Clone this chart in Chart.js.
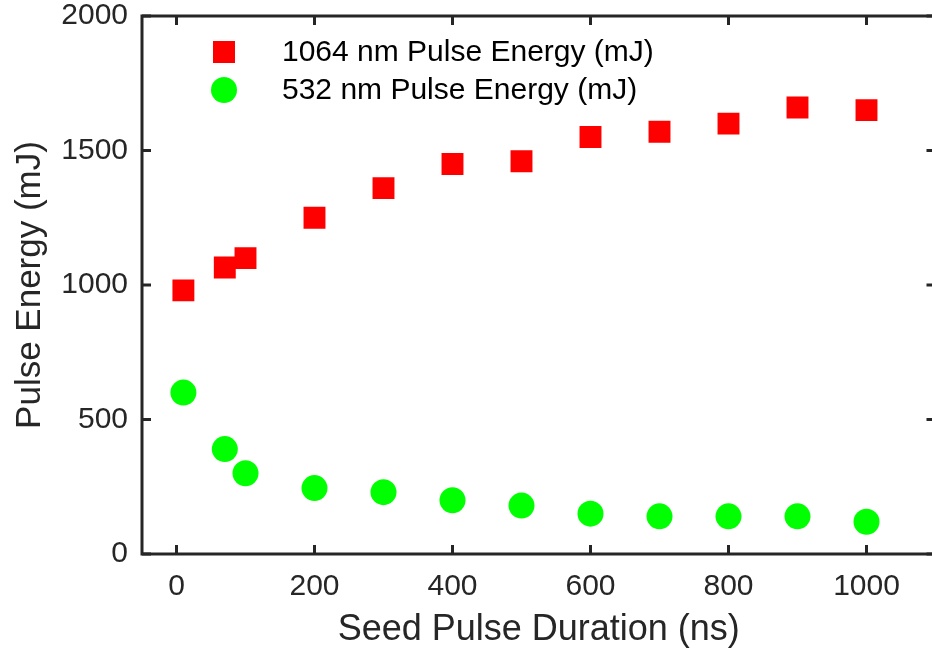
<!DOCTYPE html>
<html>
<head>
<meta charset="utf-8">
<script src="https://cdn.jsdelivr.net/npm/chart.js@4.4.1/dist/chart.umd.min.js"></script>
<style>
  html, body { margin: 0; padding: 0; background: #fff; overflow: hidden; }
  #wrap { width: 951px; height: 652px; }
</style>
</head>
<body>
<div id="wrap"><canvas id="energy-chart" width="951" height="652"></canvas></div>
<script>
// seed pulse duration (ns)
const durations = [10, 70, 100, 200, 300, 400, 500, 600, 700, 800, 900, 1000];
// pulse energy (mJ)
const energy1064 = [980, 1065, 1100, 1250, 1360, 1450, 1460, 1550, 1570, 1600, 1660, 1650];
const energy532 = [600, 390, 300, 245, 230, 200, 180, 150, 140, 140, 140, 120];

const xTicks = [0, 200, 400, 600, 800, 1000];
const yTicks = [0, 500, 1000, 1500, 2000];

const axisColor = '#262626';
const fontFamily = '"Liberation Sans", Arial, Helvetica, sans-serif';

function toPoints(xs, ys) {
    return xs.map((x, i) => ({ x: x, y: ys[i] }));
}

// box around the plot with short ticks pointing inwards on every side
const frameTicks = {
    id: 'frameTicks',
    afterDatasetsDraw(chart) {
        const { ctx, chartArea: a, scales } = chart;
        const len = 9;
        ctx.save();
        ctx.strokeStyle = axisColor;
        ctx.lineWidth = 3;
        ctx.strokeRect(a.left, a.top, a.right - a.left, a.bottom - a.top);
        ctx.beginPath();
        xTicks.forEach(v => {
            const px = scales.x.getPixelForValue(v);
            ctx.moveTo(px, a.bottom); ctx.lineTo(px, a.bottom - len);
            ctx.moveTo(px, a.top); ctx.lineTo(px, a.top + len);
        });
        yTicks.forEach(v => {
            const py = scales.y.getPixelForValue(v);
            ctx.moveTo(a.left, py); ctx.lineTo(a.left + len, py);
            ctx.moveTo(a.right, py); ctx.lineTo(a.right - len, py);
        });
        ctx.stroke();
        ctx.restore();
    }
};

// legend drawn inside the top-left of the plot
const insideLegend = {
    id: 'insideLegend',
    afterDatasetsDraw(chart) {
        const { ctx, chartArea: a } = chart;
        ctx.save();
        ctx.font = '30px ' + fontFamily;
        ctx.textBaseline = 'middle';
        chart.data.datasets.forEach((ds, i) => {
            const cy = a.top + 36 + i * 38;
            const cx = a.left + 82;
            ctx.fillStyle = ds.backgroundColor;
            ctx.beginPath();
            if (ds.pointStyle === 'rect') {
                ctx.rect(cx - 11, cy - 11, 22, 22);
            } else {
                ctx.arc(cx, cy, 13, 0, Math.PI * 2);
            }
            ctx.fill();
            ctx.fillStyle = '#000';
            ctx.fillText(ds.label, a.left + 140, cy + 1);
        });
        ctx.restore();
    }
};

new Chart(document.getElementById('energy-chart').getContext('2d'), {
    type: 'scatter',
    data: {
        datasets: [
            {
                label: '1064 nm Pulse Energy (mJ)',
                data: toPoints(durations, energy1064),
                pointStyle: 'rect',
                pointRadius: 15.5,
                backgroundColor: '#ff0000',
                borderWidth: 0
            },
            {
                label: '532 nm Pulse Energy (mJ)',
                data: toPoints(durations, energy532),
                pointStyle: 'circle',
                pointRadius: 13,
                backgroundColor: '#00ff00',
                borderWidth: 0
            }
        ]
    },
    options: {
        responsive: false,
        animation: false,
        layout: { padding: { top: 16, right: 5, left: 0, bottom: 0 } },
        plugins: {
            legend: { display: false },
            tooltip: { enabled: false }
        },
        scales: {
            x: {
                type: 'linear',
                min: -50,
                max: 1100,
                afterBuildTicks: s => { s.ticks = xTicks.map(v => ({ value: v })); },
                afterFit: s => { s.height = 98; s.paddingLeft = 0; s.paddingRight = 0; },
                grid: { display: false, drawTicks: false },
                border: { display: false },
                ticks: {
                    color: axisColor,
                    font: { family: fontFamily, size: 30 },
                    padding: 15,
                    maxRotation: 0,
                    callback: v => String(v)
                },
                title: {
                    display: true,
                    text: 'Seed Pulse Duration (ns)',
                    color: axisColor,
                    font: { family: fontFamily, size: 36 },
                    padding: { top: 0, bottom: 0 }
                }
            },
            y: {
                type: 'linear',
                min: 0,
                max: 2000,
                afterBuildTicks: s => { s.ticks = yTicks.map(v => ({ value: v })); },
                afterFit: s => { s.width = 142; s.paddingTop = 0; s.paddingBottom = 0; },
                grid: { display: false, drawTicks: false },
                border: { display: false },
                ticks: {
                    color: axisColor,
                    font: { family: fontFamily, size: 30 },
                    padding: 14,
                    callback: v => String(v)
                },
                title: {
                    display: true,
                    text: 'Pulse Energy (mJ)',
                    color: axisColor,
                    font: { family: fontFamily, size: 35 },
                    padding: { top: 9, bottom: 0 }
                }
            }
        }
    },
    plugins: [frameTicks, insideLegend]
});
</script>
</body>
</html>
